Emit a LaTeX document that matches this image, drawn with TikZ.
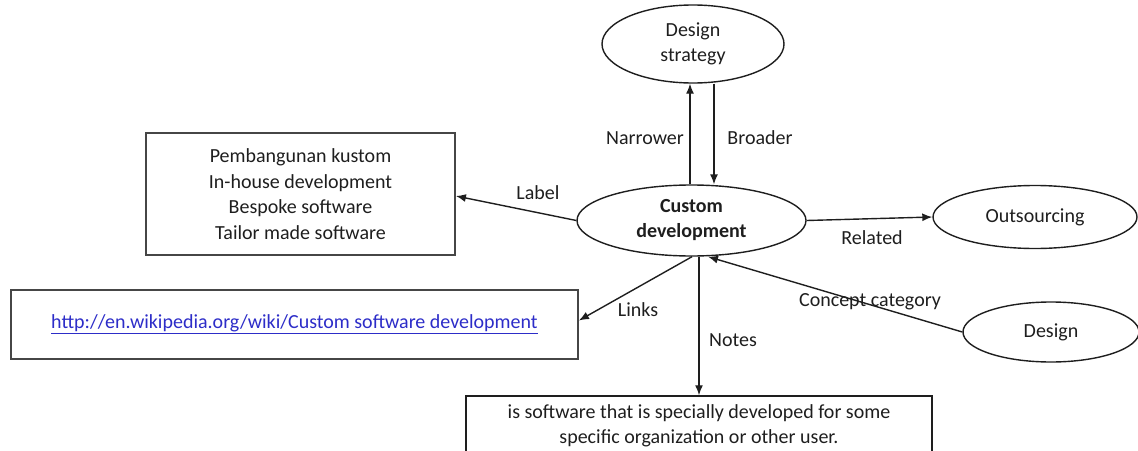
\documentclass[tikz,border=0pt]{standalone}
\usepackage{fontspec}
\setmainfont{Carlito}
\usetikzlibrary{shapes.geometric,arrows.meta}
\definecolor{ink}{RGB}{30,30,30}
\definecolor{linkblue}{RGB}{45,45,200}
\definecolor{boxline}{RGB}{70,70,70}
\begin{document}
\begin{tikzpicture}[x=1pt,y=-1pt,
  every node/.style={font=\fontsize{20}{25.5}\selectfont, text=ink},
  oval/.style={draw=ink, line width=1.4pt, ellipse, inner sep=0pt, align=center},
  box/.style={draw=boxline, line width=1.8pt, rectangle, inner sep=0pt, align=center},
  conn/.style={draw=ink, line width=1.4pt, -{Latex[length=10pt,width=8pt]}},
  lbl/.style={inner sep=0pt}]
\useasboundingbox (0,0) rectangle (1138,450);
\clip (0,0) rectangle (1138,450);
% concepts
\node[oval, minimum width=182pt, minimum height=78pt] (ds) at (693,44) {Design\\strategy};
\node[oval, minimum width=229pt, minimum height=71pt, font=\fontsize{20}{25}\selectfont\bfseries] (cd) at (691.5,220.5) {Custom\\development};
\node[oval, minimum width=204pt, minimum height=63pt] (out) at (1035,217) {Outsourcing};
\node[oval, minimum width=176pt, minimum height=60pt] (des) at (1051,332) {Design};
% boxes
\node[box, minimum width=309pt, minimum height=122pt] (lab) at (300.5,194) {Pembangunan kustom\\In-house development\\Bespoke software\\Tailor made software};
\node[box, minimum width=567pt, minimum height=69pt, text=linkblue] (wiki) at (294.5,324.5) {\underline{http://en.wikipedia.org/wiki/Custom software development}};
\node[box, draw=ink, line width=1.5pt, minimum width=466pt, minimum height=60pt] (notes) at (699,426) {is software that is specially developed for some\\specific organization or other user.};
% connectors
\draw[conn] ([xshift=-1.5pt]cd.north) -- ([xshift=-3pt]ds.south);
\draw[conn] ([xshift=21pt]ds.south) -- ([xshift=22.5pt]cd.north);
\draw[conn] (cd.west) -- ([yshift=-2pt]lab.east);
\draw[conn] (cd.east) -- (out.west);
\draw[conn] ([xshift=0.5pt]cd.south) -- ([yshift=4pt]wiki.east);
\draw[conn] ([xshift=7.5pt]cd.south) -- (notes.north);
\draw[conn] (des.west) -- ([xshift=16.5pt]cd.south);
% edge labels
\node[lbl] (nNarrower) at (645,138) {Narrower};
\node[lbl] (nBroader) at (760,138) {Broader};
\node[lbl] (nLabel) at (538,193) {Label};
\node[lbl] (nRelated) at (872,238) {Related};
\node[lbl] (nLinks) at (638,310) {Links};
\node[lbl] (nNotes) at (733,340) {Notes};
\node[lbl] (nConcept) at (870,302) {Concept category};
\end{tikzpicture}
\end{document}
